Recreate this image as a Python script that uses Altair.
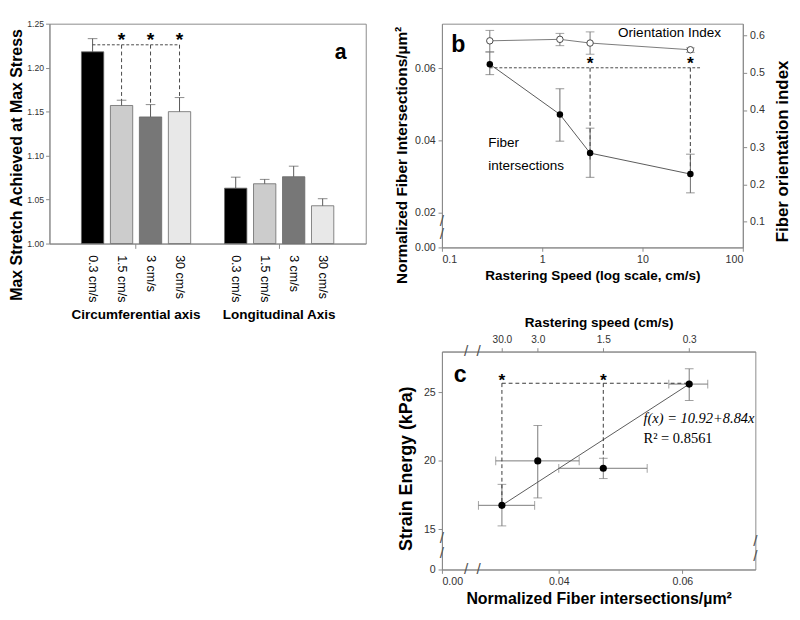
import altair as alt
import pandas as pd

FONT = "Liberation Sans"
SERIF = "Liberation Serif"

# ---------------- Panel a data ----------------
a_groups = ["Circumferential axis"] * 4 + ["Longitudinal Axis"] * 4
a_speeds = ["0.3 cm/s", "1.5 cm/s", "3 cm/s", "30 cm/s"] * 2
a_values = [1.218, 1.157, 1.144, 1.150, 1.063, 1.068, 1.076, 1.043]
a_err_top = [1.233, 1.163, 1.158, 1.166, 1.0755, 1.073, 1.088, 1.051]
a_sig_speeds = ["1.5 cm/s", "3 cm/s", "30 cm/s"]
a_sig_level = 1.226
a_star_level = 1.236
speed_order = ["0.3 cm/s", "1.5 cm/s", "3 cm/s", "30 cm/s"]
group_order = ["Circumferential axis", "Longitudinal Axis"]
bar_colors = ["#000000", "#cccccc", "#777777", "#e8e8e8"]
a_ticks = [1.00, 1.05, 1.10, 1.15, 1.20, 1.25]

# ---------------- Panel b data ----------------
b_speed = [0.3, 1.5, 3, 30]
b_fiber = [0.0611, 0.0472, 0.0365, 0.0307]
b_fiber_lo = [0.0582, 0.0398, 0.0298, 0.0255]
b_fiber_hi = [0.0645, 0.0543, 0.0434, 0.0362]
b_orient = [0.586, 0.590, 0.580, 0.562]
b_orient_lo = [0.556, 0.573, 0.550, 0.555]
b_orient_hi = [0.614, 0.606, 0.610, 0.567]
b_sig_span = [0.3, 39]
b_sig_level = 0.0601
b_sig_speeds = [3, 30]
b_sig_ends = [0.034, 0.0305]
b_star_level = 0.0621

# ---------------- Panel c data ----------------
c_x = [0.0611, 0.0366, 0.0472, 0.0308]
c_y = [25.6, 20.0, 19.46, 16.76]
c_y_lo = [24.41, 17.3, 18.71, 15.26]
c_y_hi = [26.71, 22.58, 20.19, 18.29]
c_x_lo = [0.0578, 0.0298, 0.0400, 0.0270]
c_x_hi = [0.0641, 0.0433, 0.0543, 0.0361]
c_speed_labels = ["0.3", "3.0", "1.5", "30.0"]
c_fit_x = [0.0308, 0.0611]
c_fit_y = [16.76, 25.6]
c_sig_level = 25.66
c_sig_x = [0.0308, 0.0472]
c_sig_ends = [16.76, 20.19]
c_star_level = 26.1

ONE = pd.DataFrame({"k": [0]})


def label(text, x, y, **kw):
    """Annotation text placed in the plot's pixel frame."""
    return alt.Chart(ONE).mark_text(text=text, **kw).encode(x=alt.value(x), y=alt.value(y))


def slash(x, y):
    return label("/", x, y, fontSize=16, color="#555", font=FONT)


# ================= Panel a =================
A_W, A_H = 328, 228
df_a = pd.DataFrame({"group": a_groups, "speed": a_speeds, "value": a_values, "err": a_err_top})
df_a_sig = df_a[df_a["group"] == group_order[0]].copy()
df_a_sig["sig"] = a_sig_level
df_a_sig["star"] = a_star_level
df_a_vert = df_a_sig[df_a_sig["speed"].isin(a_sig_speeds)]

xa = alt.X("group:N", sort=group_order,
           scale=alt.Scale(paddingInner=0.19, paddingOuter=0.2),
           axis=alt.Axis(title=None, labelAngle=0, labelPadding=62, labelFontSize=14,
                         labelFontWeight="bold", labelColor="black", tickSize=5))
xoa = alt.XOffset("speed:N", sort=speed_order,
                  scale=alt.Scale(paddingInner=0.23, paddingOuter=0.115))
ya_scale = alt.Scale(domain=[1.0, 1.25], nice=False, zero=False)
ya_axis = alt.Axis(values=a_ticks, format=".2f", title="Max Stretch Achieved at  Max Stress",
                   titleFontSize=16.5, labelFontSize=9, titlePadding=2, labelPadding=2,
                   titleY=146)


def ya(field):
    return alt.Y(field, type="quantitative", scale=ya_scale, axis=ya_axis)


a_bars = alt.Chart(df_a).mark_bar(stroke="#666", strokeWidth=0.8).encode(
    x=xa, xOffset=xoa, y=ya("value"), y2=alt.datum(1.0),
    color=alt.Color("speed:N", sort=speed_order,
                    scale=alt.Scale(domain=speed_order, range=bar_colors), legend=None))
a_err = alt.Chart(df_a).mark_rule(color="#555", strokeWidth=1).encode(
    x=xa, xOffset=xoa, y=ya("value"), y2="err:Q")
a_cap = alt.Chart(df_a).mark_tick(orient="horizontal", size=10, thickness=1, color="#555").encode(
    x=xa, xOffset=xoa, y=ya("err"))
a_sig_h = alt.Chart(df_a_sig).mark_line(strokeDash=[3, 2], color="#444", strokeWidth=1).encode(
    x=xa, xOffset=xoa, y=ya("sig"))
a_sig_v = alt.Chart(df_a_vert).mark_rule(strokeDash=[4, 3], color="#444", strokeWidth=1).encode(
    x=xa, xOffset=xoa, y=ya("sig"), y2="err:Q")
a_star = alt.Chart(df_a_vert).mark_text(text="*", fontSize=20, fontWeight="bold", font=FONT,
                                        baseline="middle", dy=4).encode(
    x=xa, xOffset=xoa, y=ya("star"))
a_lab = alt.Chart(df_a).mark_text(angle=90, align="left", baseline="middle", fontSize=13,
                                  font=FONT, color="black").encode(
    x=xa, xOffset=xoa, y=alt.value(A_H + 12), text="speed:N")
a_letter = label("a", 302, 30, fontSize=22, fontWeight="bold", font=FONT)

panel_a = alt.layer(a_bars, a_err, a_cap, a_sig_h, a_sig_v, a_star, a_lab, a_letter).properties(
    width=A_W, height=A_H)

# ================= Panel b =================
B_W, B_H = 312, 232
df_b = pd.DataFrame({"speed": b_speed, "fiber": b_fiber, "flo": b_fiber_lo, "fhi": b_fiber_hi,
                     "orient": b_orient, "olo": b_orient_lo, "ohi": b_orient_hi})
df_b_sigh = pd.DataFrame({"speed": b_sig_span, "sig": [b_sig_level] * len(b_sig_span)})
df_b_sigv = pd.DataFrame({"speed": b_sig_speeds, "sig": [b_sig_level] * 2, "end": b_sig_ends,
                          "star": [b_star_level] * 2})

xb = alt.X("speed:Q", scale=alt.Scale(type="log", domain=[0.1, 100], nice=False),
           axis=alt.Axis(values=[0.1, 1, 10, 100], format="~g", titleFontSize=14,
                         title="Rastering Speed (log scale, cm/s)", titlePadding=4))
ybl_scale = alt.Scale(domain=[0.0104, 0.0723], nice=False, zero=False)
ybl_axis = alt.Axis(values=[0.0104, 0.02, 0.04, 0.06],
                    labelExpr="datum.value < 0.015 ? '0.00' : format(datum.value, '.2f')",
                    title="Normalized Fiber Intersections/µm²", titleFontSize=16,
                    titlePadding=5, titleY=136)
ybr_scale = alt.Scale(domain=[0.031, 0.632], nice=False, zero=False)
ybr_axis = alt.Axis(orient="right", values=[0.1, 0.2, 0.3, 0.4, 0.5, 0.6], format=".1f",
                    title="Fiber orientation index", titleFontSize=17.5, titleAngle=270,
                    titleBaseline="top", titlePadding=10, titleY=132)


def ybl(field):
    return alt.Y(field, type="quantitative", scale=ybl_scale, axis=ybl_axis)


def ybr(field):
    return alt.Y(field, type="quantitative", scale=ybr_scale, axis=ybr_axis)


bb = alt.Chart(df_b)
b_left = alt.layer(
    bb.mark_rule(color="#666").encode(x=xb, y=ybl("flo"), y2="fhi:Q"),
    bb.mark_tick(orient="horizontal", size=9, thickness=1, color="#666").encode(x=xb, y=ybl("flo")),
    bb.mark_tick(orient="horizontal", size=9, thickness=1, color="#666").encode(x=xb, y=ybl("fhi")),
    bb.mark_line(color="#555", strokeWidth=1).encode(x=xb, y=ybl("fiber")),
    alt.Chart(df_b_sigh).mark_line(strokeDash=[3, 2], color="#444", strokeWidth=1).encode(
        x=xb, y=ybl("sig")),
    alt.Chart(df_b_sigv).mark_rule(strokeDash=[4, 3], color="#555", strokeWidth=1.2).encode(
        x=xb, y=ybl("sig"), y2="end:Q"),
    alt.Chart(df_b_sigv).mark_text(text="*", fontSize=18, fontWeight="bold", font=FONT,
                                   dy=4).encode(x=xb, y=ybl("star")),
    bb.mark_point(filled=True, color="black", size=45, opacity=1).encode(x=xb, y=ybl("fiber")),
    label("b", 17, 22, fontSize=24, fontWeight="bold", font=FONT),
    label("Orientation Index", 236, 10, fontSize=14, font=FONT),
    label("Fiber", 48, 124, fontSize=14, font=FONT, align="left"),
    label("intersections", 48, 148, fontSize=14, font=FONT, align="left"),
    slash(0, 205),
    slash(0, 218),
)
b_right = alt.layer(
    bb.mark_rule(color="#777").encode(x=xb, y=ybr("olo"), y2="ohi:Q"),
    bb.mark_tick(orient="horizontal", size=9, thickness=1, color="#777").encode(x=xb, y=ybr("olo")),
    bb.mark_tick(orient="horizontal", size=9, thickness=1, color="#777").encode(x=xb, y=ybr("ohi")),
    bb.mark_line(color="#777", strokeWidth=1).encode(x=xb, y=ybr("orient")),
    bb.mark_point(filled=True, fill="white", stroke="#444", strokeWidth=1, size=45,
                  opacity=1).encode(x=xb, y=ybr("orient")),
)
panel_b = alt.layer(b_left, b_right).resolve_scale(y="independent").properties(
    width=B_W, height=B_H)

# ================= Panel c =================
C_W, C_H = 325, 226
df_c = pd.DataFrame({"x": c_x, "y": c_y, "ylo": c_y_lo, "yhi": c_y_hi, "xlo": c_x_lo, "xhi": c_x_hi})
df_fit = pd.DataFrame({"x": c_fit_x, "y": c_fit_y})
df_c_sigh = pd.DataFrame({"x": [c_sig_x[0], c_x[0]], "y": [c_sig_level] * 2})
df_c_sigv = pd.DataFrame({"x": c_sig_x, "y": [c_sig_level] * 2, "end": c_sig_ends,
                          "star": [c_star_level] * 2})

cx_scale = alt.Scale(domain=[0.0211, 0.0718], nice=False, zero=False)
cx_axis = alt.Axis(values=[0.0211, 0.04, 0.06],
                   labelExpr="datum.value < 0.03 ? '0.00' : format(datum.value, '.2f')",
                   title="Normalized Fiber intersections/µm²", titleFontSize=16.5, titlePadding=4)
cy_scale = alt.Scale(domain=[12.08, 27.97], nice=False, zero=False)
cy_axis = alt.Axis(values=[12.08, 15, 20, 25],
                   labelExpr="datum.value < 13 ? '0' : format(datum.value, 'd')",
                   title="Strain Energy (kPa)", titleFontSize=18.5, titlePadding=8, titleY=121)


def cx(field):
    return alt.X(field, type="quantitative", scale=cx_scale, axis=cx_axis)


def cy(field):
    return alt.Y(field, type="quantitative", scale=cy_scale, axis=cy_axis)


top_expr = " : ".join(
    f"abs(datum.value - {v}) < 0.0001 ? '{lab}'" for v, lab in zip(c_x, c_speed_labels)) + " : ''"

cc = alt.Chart(df_c)
c_main = alt.layer(
    cc.mark_rule(color="#777").encode(x=cx("x"), y=cy("ylo"), y2="yhi:Q"),
    cc.mark_rule(color="#777").encode(x=cx("xlo"), x2="xhi:Q", y=cy("y")),
    cc.mark_tick(orient="horizontal", size=9, thickness=1, color="#777").encode(x=cx("x"), y=cy("ylo")),
    cc.mark_tick(orient="horizontal", size=9, thickness=1, color="#777").encode(x=cx("x"), y=cy("yhi")),
    cc.mark_tick(orient="vertical", size=9, thickness=1, color="#777").encode(x=cx("xlo"), y=cy("y")),
    cc.mark_tick(orient="vertical", size=9, thickness=1, color="#777").encode(x=cx("xhi"), y=cy("y")),
    alt.Chart(df_fit).mark_line(color="#555", strokeWidth=1).encode(x=cx("x"), y=cy("y")),
    alt.Chart(df_c_sigh).mark_line(strokeDash=[4, 3], color="#333", strokeWidth=1).encode(
        x=cx("x"), y=cy("y")),
    alt.Chart(df_c_sigv).mark_rule(strokeDash=[4, 3], color="#333", strokeWidth=1).encode(
        x=cx("x"), y=cy("y"), y2="end:Q"),
    alt.Chart(df_c_sigv).mark_text(text="*", fontSize=18, fontWeight="bold", font=FONT,
                                   dy=4).encode(x=cx("x"), y=cy("star")),
    cc.mark_point(filled=True, color="black", size=55, opacity=1).encode(x=cx("x"), y=cy("y")),
    label("c", 19, 25, fontSize=24, fontWeight="bold", font=FONT),
    label("f(x) = 10.92+8.84x", 209, 69, fontSize=15, font=SERIF, fontStyle="italic", align="left"),
    label("R² = 0.8561", 209, 90, fontSize=15, font=SERIF, align="left"),
    slash(25, 0), slash(38, 0),
    slash(25, C_H), slash(38, C_H),
    slash(0, 194), slash(0, 209),
    slash(C_W, 197), slash(C_W, 212),
)
c_top = cc.mark_point(opacity=0).encode(
    x=alt.X("x:Q", scale=cx_scale,
            axis=alt.Axis(orient="top", values=c_x, labelExpr=top_expr, labelFontSize=10.5,
                          title="Rastering speed (cm/s)", titleFontSize=14, titlePadding=6)),
    y=cy("y"))
panel_c = alt.layer(c_main, c_top).resolve_scale(x="independent").properties(
    width=C_W, height=C_H)

chart = alt.hconcat(panel_a, alt.vconcat(panel_b, panel_c, spacing=31), spacing=28).properties(
    padding={"left": 0, "top": 0, "right": 0, "bottom": 0}
).configure_view(stroke="#888", strokeWidth=1).configure_axis(
    grid=False, labelFont=FONT, titleFont=FONT, labelFontSize=11, labelColor="#333",
    titleFontSize=16, titleFontWeight="bold", titleColor="black", domainColor="#888",
    tickColor="#888", tickSize=4, labelPadding=3
).configure_concat(spacing=20)

chart.save("out.html", embed_options={"renderer": "svg", "actions": False})
